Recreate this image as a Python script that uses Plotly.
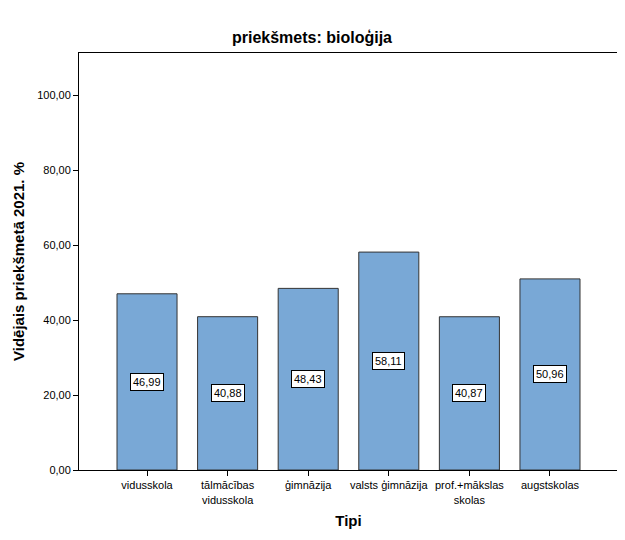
import plotly.graph_objects as go

categories = ["vidusskola", "tālmācības<br>vidusskola", "ģimnāzija",
              "valsts ģimnāzija", "prof.+mākslas<br>skolas", "augstskolas"]
values = [46.99, 40.88, 48.43, 58.11, 40.87, 50.96]
value_labels = ["46,99", "40,88", "48,43", "58,11", "40,87", "50,96"]
y_ticks = [0, 20, 40, 60, 80, 100]
y_tick_labels = ["0,00", "20,00", "40,00", "60,00", "80,00", "100,00"]

font_family = "Liberation Sans, Arial, sans-serif"

# page body has an 8px default margin; compensate in the figure margins
OFF = 8

fig = go.Figure()
fig.add_trace(go.Bar(
    x=list(range(len(categories))),
    y=values,
    width=0.745,
    marker=dict(color="#79a8d6", line=dict(color="#333333", width=1)),
    hoverinfo="skip",
))

for i, (v, lab) in enumerate(zip(values, value_labels)):
    fig.add_annotation(
        x=i, y=v / 2, text=lab, showarrow=False,
        font=dict(family=font_family, size=11, color="black"),
        bgcolor="white", bordercolor="black", borderwidth=1, borderpad=2,
    )

fig.update_layout(
    width=625, height=540,
    margin=dict(l=79 - OFF, r=7 + OFF, t=53 - OFF, b=70 + OFF),
    paper_bgcolor="white", plot_bgcolor="white",
    showlegend=False,
    font=dict(family=font_family, size=11, color="black"),
    title=dict(text="<b>priekšmets: bioloģija</b>", x=(312 - OFF) / 625, xanchor="center",
               y=1 - (37 - OFF) / 540, yanchor="middle",
               font=dict(family=font_family, size=16, color="black")),
    xaxis=dict(
        range=[-0.844, 5.844],
        tickmode="array", tickvals=list(range(len(categories))), ticktext=categories,
        ticks="outside", ticklen=5, tickcolor="black",
        showline=True, linecolor="black", linewidth=1, mirror=True,
        showgrid=False, zeroline=False,
        tickfont=dict(family=font_family, size=11, color="black"),
        title=dict(text="<b>Tipi</b>", standoff=10,
                   font=dict(family=font_family, size=15, color="black")),
    ),
    yaxis=dict(
        range=[0, 111.2],
        tickmode="array", tickvals=y_ticks, ticktext=y_tick_labels,
        ticks="outside", ticklen=5, tickcolor="black",
        showline=True, linecolor="black", linewidth=1, mirror=True,
        showgrid=False, zeroline=False,
        tickfont=dict(family=font_family, size=11, color="black"),
        title=dict(text="<b>Vidējais priekšmetā 2021. %</b>", standoff=8,
                   font=dict(family=font_family, size=15, color="black")),
    ),
)

fig.write_html("out.html")
